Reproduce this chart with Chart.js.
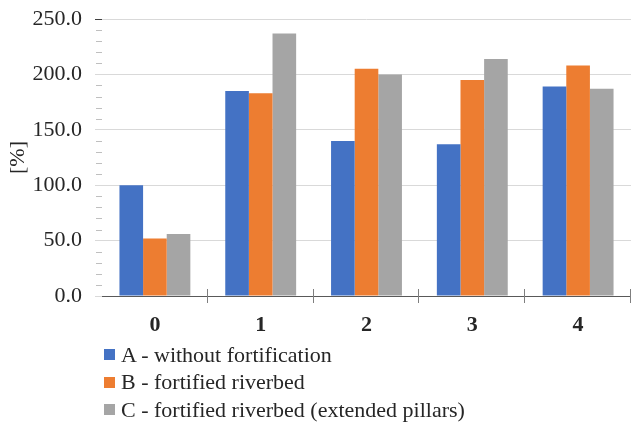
<!DOCTYPE html>
<html>
<head>
<meta charset="utf-8">
<script src="https://cdn.jsdelivr.net/npm/chart.js@4/dist/chart.umd.min.js"></script>
<style>
  html, body { margin: 0; padding: 0; background: #fff; }
  #wrap { position: relative; width: 631px; height: 424px; }
  #legend { position: absolute; left: 104px; top: 341px; font-family: "Liberation Serif", serif; font-size: 22px; color: #262626; }
  .item { display: flex; align-items: center; height: 27.5px; white-space: nowrap; }
  .box { width: 11px; height: 11px; margin-right: 6px; flex: none; }
</style>
</head>
<body>
<div id="wrap">
  <canvas id="chart" width="631" height="424"></canvas>
  <div id="legend"></div>
</div>
<script>
// Cases along the x axis
const categories = ['0', '1', '2', '3', '4'];

// Series names
const seriesNames = [
  'A - without fortification',
  'B - fortified riverbed',
  'C - fortified riverbed (extended pillars)'
];

// Values in percent
const seriesA = [100, 185, 140, 137, 189];
const seriesB = [52, 183, 205, 195, 208];
const seriesC = [56, 237, 200, 214, 187];

const seriesColors = ['#4472C4', '#ED7D31', '#A5A5A5'];

const yMin = 0;
const yMax = 250;
const yStep = 50;
const yMinorStep = 10;

const serif = '"Liberation Serif", "Times New Roman", serif';

// Minor ticks on the value axis and boundary ticks crossing the category axis
const axisMarks = {
  id: 'axisMarks',
  afterDraw(chart) {
    const { ctx, chartArea } = chart;
    const y = chart.scales.y;
    const x = chart.scales.x;
    ctx.save();
    ctx.lineWidth = 1;
    ctx.strokeStyle = '#bfbfbf';
    for (let v = yMin + yMinorStep; v < yMax; v += yMinorStep) {
      if (v % yStep === 0) continue;
      const py = Math.round(y.getPixelForValue(v)) + 0.5;
      ctx.beginPath();
      ctx.moveTo(chartArea.left - 6, py);
      ctx.lineTo(chartArea.left, py);
      ctx.stroke();
    }
    ctx.strokeStyle = '#7f7f7f';
    const n = categories.length;
    const step = (x.right - x.left) / n;
    const base = Math.round(y.getPixelForValue(0));
    for (let i = 1; i <= n; i++) {
      const px = Math.round(x.left + step * i) - 0.5;
      ctx.beginPath();
      ctx.moveTo(px, base - 7);
      ctx.lineTo(px, base + 7);
      ctx.stroke();
    }
    ctx.restore();
  }
};

const chart = new Chart(document.getElementById('chart'), {
  type: 'bar',
  data: {
    labels: categories,
    datasets: [
      { label: seriesNames[0], data: seriesA, backgroundColor: seriesColors[0] },
      { label: seriesNames[1], data: seriesB, backgroundColor: seriesColors[1] },
      { label: seriesNames[2], data: seriesC, backgroundColor: seriesColors[2] }
    ]
  },
  options: {
    responsive: false,
    animation: false,
    layout: { padding: { top: 0, right: 0, bottom: 88, left: 0 } },
    datasets: { bar: { barPercentage: 1.0, categoryPercentage: 0.67 } },
    plugins: {
      legend: { display: false },
      tooltip: { enabled: false }
    },
    scales: {
      x: {
        afterFit(scale) { scale.height = 40; },
        grid: { display: false },
        border: { display: true, color: '#595959', width: 1 },
        ticks: {
          color: '#262626',
          padding: 8,
          font: { family: serif, size: 22, weight: 'bold' }
        }
      },
      y: {
        min: yMin,
        max: yMax,
        afterFit(scale) {
          scale.width = 102;
          scale.paddingTop = 19;
          scale.paddingBottom = 0;
        },
        border: { display: false },
        grid: {
          color: (c) => (c.tick && c.tick.value === 0 ? '#595959' : '#d9d9d9'),
          tickColor: (c) => (c.tick && c.tick.value === yMax ? '#404040' : '#d9d9d9'),
          tickLength: 7
        },
        ticks: {
          stepSize: yStep,
          padding: 13,
          color: '#262626',
          font: { family: serif, size: 22 },
          callback: (v) => Number(v).toFixed(1)
        },
        title: {
          display: true,
          text: '[%]',
          color: '#262626',
          padding: { top: 5, bottom: 0 },
          font: { family: serif, size: 22 }
        }
      }
    }
  },
  plugins: [axisMarks]
});

// Legend built from the chart's own datasets
const legendEl = document.getElementById('legend');
chart.data.datasets.forEach((ds) => {
  const row = document.createElement('div');
  row.className = 'item';
  const box = document.createElement('span');
  box.className = 'box';
  box.style.background = ds.backgroundColor;
  const label = document.createElement('span');
  label.textContent = ds.label;
  row.appendChild(box);
  row.appendChild(label);
  legendEl.appendChild(row);
});
</script>
</body>
</html>
